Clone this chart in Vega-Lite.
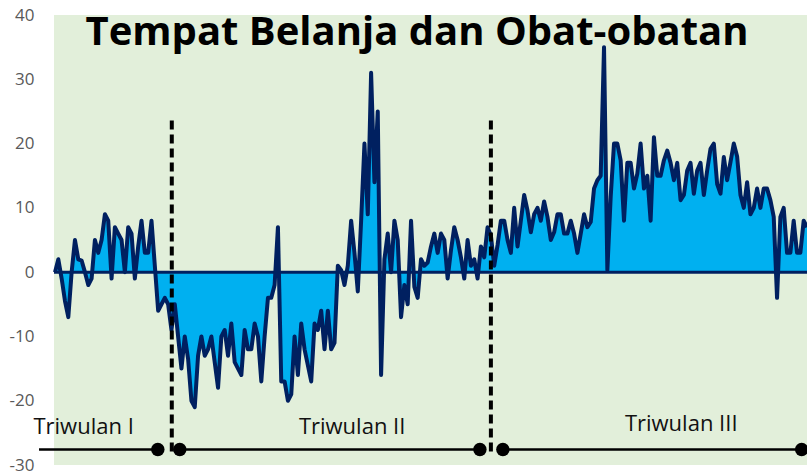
{
  "$schema": "https://vega.github.io/schema/vega-lite/v6.json",
  "width": 753,
  "height": 450,
  "autosize": {"type": "none"},
  "padding": {"left": 54, "top": 15, "right": 0, "bottom": 9},
  "background": "white",
  "config": {
    "view": {"fill": "#e2efda", "stroke": null},
    "font": "Open Sans"
  },
  "datasets": {
    "series": [
      {"t":0,"v":0},{"t":1,"v":2},{"t":2,"v":-1},{"t":3,"v":-4.5},{"t":4,"v":-7},{"t":5,"v":0},{"t":6,"v":5},{"t":7,"v":2},{"t":8,"v":1.8},{"t":9,"v":0},
      {"t":10,"v":-2},{"t":11,"v":-1},{"t":12,"v":5},{"t":13,"v":3},{"t":14,"v":5},{"t":15,"v":9},{"t":16,"v":8},{"t":17,"v":-1},{"t":18,"v":7},{"t":19,"v":6},
      {"t":20,"v":5},{"t":21,"v":0},{"t":22,"v":7},{"t":23,"v":6},{"t":24,"v":-1},{"t":25,"v":4},{"t":26,"v":8},{"t":27,"v":3},{"t":28,"v":3},{"t":29,"v":8},
      {"t":30,"v":1},{"t":31,"v":-6},{"t":32,"v":-5},{"t":33,"v":-4},{"t":34,"v":-5},{"t":35,"v":-9},{"t":36,"v":-5},{"t":37,"v":-10},{"t":38,"v":-15},{"t":39,"v":-10},
      {"t":40,"v":-13.5},{"t":41,"v":-20},{"t":42,"v":-21},{"t":43,"v":-13},{"t":44,"v":-10},{"t":45,"v":-13},{"t":46,"v":-12},{"t":47,"v":-10},{"t":48,"v":-14},{"t":49,"v":-18},
      {"t":50,"v":-10},{"t":51,"v":-9},{"t":52,"v":-13},{"t":53,"v":-8},{"t":54,"v":-14},{"t":55,"v":-15},{"t":56,"v":-16},{"t":57,"v":-9},{"t":58,"v":-12},{"t":59,"v":-12},
      {"t":60,"v":-8},{"t":61,"v":-10},{"t":62,"v":-17},{"t":63,"v":-10},{"t":64,"v":-4},{"t":65,"v":-4},{"t":66,"v":-2},{"t":67,"v":7},{"t":68,"v":-17},{"t":69,"v":-17},
      {"t":70,"v":-20},{"t":71,"v":-19},{"t":72,"v":-10},{"t":73,"v":-16},{"t":74,"v":-8},{"t":75,"v":-12},{"t":76,"v":-14.5},{"t":77,"v":-17},{"t":78,"v":-8},{"t":79,"v":-9},
      {"t":80,"v":-6},{"t":81,"v":-12},{"t":82,"v":-6},{"t":83,"v":-12},{"t":84,"v":-11},{"t":85,"v":1},{"t":86,"v":0.3},{"t":87,"v":-2},{"t":88,"v":1},{"t":89,"v":8},
      {"t":90,"v":3},{"t":91,"v":-3},{"t":92,"v":8},{"t":93,"v":20},{"t":94,"v":9},{"t":95,"v":31},{"t":96,"v":14},{"t":97,"v":25},{"t":98,"v":-16},{"t":99,"v":2},
      {"t":100,"v":6},{"t":101,"v":0},{"t":102,"v":8},{"t":103,"v":5},{"t":104,"v":-7},{"t":105,"v":-2},{"t":106,"v":-5},{"t":107,"v":8},{"t":108,"v":-2.3},{"t":109,"v":-4},
      {"t":110,"v":2},{"t":111,"v":1},{"t":112,"v":1.5},{"t":113,"v":4},{"t":114,"v":6},{"t":115,"v":3},{"t":116,"v":6},{"t":117,"v":5},{"t":118,"v":-1},{"t":119,"v":3.4},
      {"t":120,"v":7},{"t":121,"v":5},{"t":122,"v":2.3},{"t":123,"v":-1},{"t":124,"v":5},{"t":125,"v":1},{"t":126,"v":2},{"t":127,"v":-1},{"t":128,"v":4},{"t":129,"v":2.3},
      {"t":130,"v":7},{"t":131,"v":5.7},{"t":132,"v":1},{"t":133,"v":4.2},{"t":134,"v":8},{"t":135,"v":8},{"t":136,"v":5},{"t":137,"v":3},{"t":138,"v":10},{"t":139,"v":4},
      {"t":140,"v":8},{"t":141,"v":12},{"t":142,"v":9.6},{"t":143,"v":6.2},{"t":144,"v":9},{"t":145,"v":10},{"t":146,"v":8},{"t":147,"v":11},{"t":148,"v":8.6},{"t":149,"v":5},
      {"t":150,"v":6.2},{"t":151,"v":9},{"t":152,"v":9},{"t":153,"v":6},{"t":154,"v":6},{"t":155,"v":8},{"t":156,"v":6},{"t":157,"v":3},{"t":158,"v":6},{"t":159,"v":9},
      {"t":160,"v":7},{"t":161,"v":7.8},{"t":162,"v":13},{"t":163,"v":14.3},{"t":164,"v":15},{"t":165,"v":35},{"t":166,"v":0.3},{"t":167,"v":11.7},{"t":168,"v":20},{"t":169,"v":20},
      {"t":170,"v":17.4},{"t":171,"v":8},{"t":172,"v":17},{"t":173,"v":17},{"t":174,"v":13},{"t":175,"v":15.3},{"t":176,"v":20},{"t":177,"v":13},{"t":178,"v":15},{"t":179,"v":8},
      {"t":180,"v":21},{"t":181,"v":15},{"t":182,"v":15},{"t":183,"v":17.4},{"t":184,"v":18.9},{"t":185,"v":17},{"t":186,"v":14.3},{"t":187,"v":17},{"t":188,"v":11.2},{"t":189,"v":12},
      {"t":190,"v":15.8},{"t":191,"v":17},{"t":192,"v":12.2},{"t":193,"v":15.8},{"t":194,"v":17},{"t":195,"v":12},{"t":196,"v":15.8},{"t":197,"v":19.2},{"t":198,"v":20},{"t":199,"v":13.7},
      {"t":200,"v":12.2},{"t":201,"v":17.9},{"t":202,"v":14.3},{"t":203,"v":17.1},{"t":204,"v":20},{"t":205,"v":18},{"t":206,"v":12},{"t":207,"v":10},{"t":208,"v":14},{"t":209,"v":9},
      {"t":210,"v":10},{"t":211,"v":13},{"t":212,"v":10},{"t":213,"v":13},{"t":214,"v":13},{"t":215,"v":11.2},{"t":216,"v":8.6},{"t":217,"v":-4},{"t":218,"v":8.6},{"t":219,"v":10},
      {"t":220,"v":3},{"t":221,"v":3},{"t":222,"v":8},{"t":223,"v":3},{"t":224,"v":3},{"t":225,"v":8},{"t":226,"v":7}
    ],
    "batas": [
      {"t": 35.1, "atas": 23.6, "bawah": -28.3},
      {"t": 131.0, "atas": 23.6, "bawah": -28.3}
    ],
    "segmen": [
      {"awal": -4.8, "akhir": 30.9, "y": -27.6},
      {"awal": 37.5, "akhir": 127.7, "y": -27.6},
      {"awal": 134.6, "akhir": 224.4, "y": -27.6}
    ],
    "titik": [
      {"t": 30.9, "y": -27.6},
      {"t": 37.5, "y": -27.6},
      {"t": 127.7, "y": -27.6},
      {"t": 134.6, "y": -27.6},
      {"t": 224.4, "y": -27.6}
    ],
    "label": [
      {"t": 8.6, "y": -25.1, "teks": "Triwulan I"},
      {"t": 89.3, "y": -25.1, "teks": "Triwulan II"},
      {"t": 188.2, "y": -24.7, "teks": "Triwulan III"}
    ],
    "judul": [
      {"t": 108.8, "y": 35.3, "teks": "Tempat Belanja dan Obat-obatan"}
    ],
    "nol": [{"y": 0}]
  },
  "layer": [
    {
      "data": {"name": "series"},
      "mark": {"type": "area", "color": "#00b0f0", "opacity": 1},
      "encoding": {
        "x": {"field": "t", "type": "quantitative", "scale": {"domain": [-0.3, 226], "nice": false, "zero": false}, "axis": null},
        "y": {"field": "v", "type": "quantitative", "scale": {"domain": [-30, 40], "nice": false}, "axis": {"values": [-30, -20, -10, 0, 10, 20, 30, 40], "labelExpr": "replace(datum.label, '\u2212', '-')", "domain": false, "ticks": false, "grid": false, "title": null, "labelPadding": 20, "labelColor": "#595959", "labelFontSize": 17, "labelFont": "Open Sans"}},
        "y2": {"datum": 0}
      }
    },
    {
      "data": {"name": "nol"},
      "mark": {"type": "rule", "color": "#002060", "strokeWidth": 3},
      "encoding": {"y": {"field": "y", "type": "quantitative"}}
    },
    {
      "data": {"name": "series"},
      "mark": {"type": "line", "color": "#002060", "strokeWidth": 4, "strokeJoin": "round"},
      "encoding": {
        "x": {"field": "t", "type": "quantitative"},
        "y": {"field": "v", "type": "quantitative"}
      }
    },
    {
      "data": {"name": "batas"},
      "mark": {"type": "rule", "color": "#000000", "strokeWidth": 4, "strokeDash": [9, 5]},
      "encoding": {
        "x": {"field": "t", "type": "quantitative"},
        "y": {"field": "atas", "type": "quantitative"},
        "y2": {"field": "bawah"}
      }
    },
    {
      "data": {"name": "segmen"},
      "mark": {"type": "rule", "color": "#000000", "strokeWidth": 2.5},
      "encoding": {
        "x": {"field": "awal", "type": "quantitative"},
        "x2": {"field": "akhir"},
        "y": {"field": "y", "type": "quantitative"}
      }
    },
    {
      "data": {"name": "titik"},
      "mark": {"type": "point", "filled": true, "color": "#000000", "opacity": 1, "size": 180},
      "encoding": {
        "x": {"field": "t", "type": "quantitative"},
        "y": {"field": "y", "type": "quantitative"}
      }
    },
    {
      "data": {"name": "label"},
      "mark": {"type": "text", "font": "Open Sans", "fontSize": 22, "color": "#111111", "align": "center", "baseline": "alphabetic"},
      "encoding": {
        "x": {"field": "t", "type": "quantitative"},
        "y": {"field": "y", "type": "quantitative"},
        "text": {"field": "teks"}
      }
    },
    {
      "data": {"name": "judul"},
      "mark": {"type": "text", "font": "Open Sans", "fontSize": 40, "fontWeight": "bold", "color": "#000000", "align": "center", "baseline": "alphabetic"},
      "encoding": {
        "x": {"field": "t", "type": "quantitative"},
        "y": {"field": "y", "type": "quantitative"},
        "text": {"field": "teks"}
      }
    }
  ]
}
